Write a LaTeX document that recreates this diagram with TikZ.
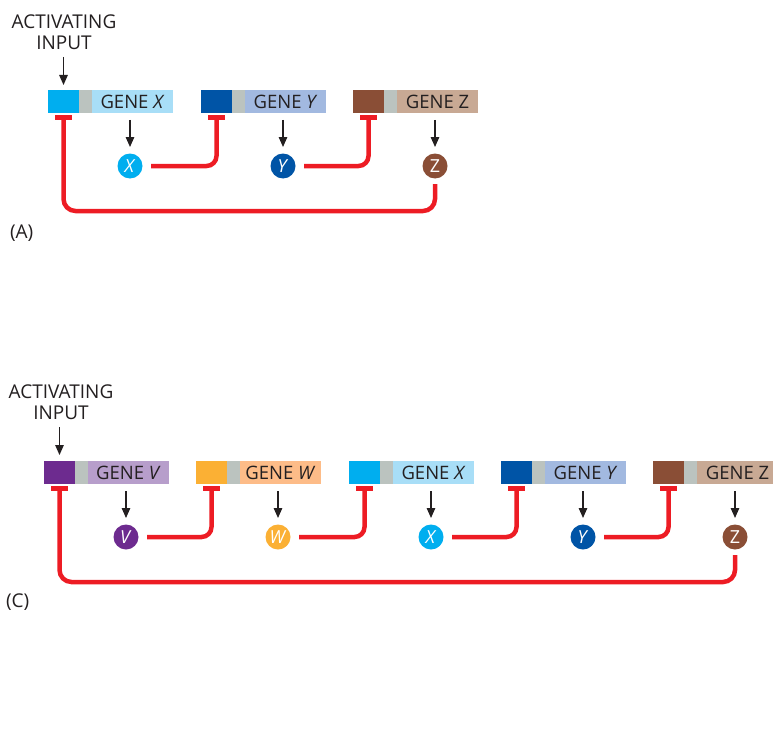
\documentclass[tikz,border=0pt]{standalone}
\usepackage{fontspec}
\setmainfont{Open Sans}
\usetikzlibrary{calc,arrows.meta}
\definecolor{txt}{HTML}{231F20}
\definecolor{grayS}{HTML}{BBC3BF}
\definecolor{cyanD}{HTML}{00AEEF}
\definecolor{cyanL}{HTML}{A8DEF7}
\definecolor{blueD}{HTML}{0054A6}
\definecolor{blueL}{HTML}{A2B9E0}
\definecolor{brownD}{HTML}{8A4E36}
\definecolor{brownL}{HTML}{C8A994}
\definecolor{purpD}{HTML}{6D2B8F}
\definecolor{purpL}{HTML}{B79ECB}
\definecolor{oranD}{HTML}{FBB034}
\definecolor{oranL}{HTML}{FDBC88}
\definecolor{inhred}{HTML}{ED1C24}
\tikzset{
  base/.style={inner sep=0pt, outer sep=0pt, draw=none},
  prom/.style={base, minimum width=31pt, minimum height=23pt},
  spacer/.style={base, fill=grayS, minimum width=13pt, minimum height=23pt},
  genebox/.style={base, minimum width=81pt, minimum height=23pt, text=txt, font=\fontsize{18.5}{22}\selectfont},
  prot/.style={base, circle, minimum size=25pt, text=white, font=\fontsize{18}{22}\selectfont},
  blk/.style={draw=txt, line width=1.3pt, -{Triangle[length=10pt,width=8.5pt]}},
  inh/.style={draw=inhred, line width=4.5pt, line cap=butt},
  tbar/.style={draw=inhred, line width=5pt, line cap=butt},
  lbl/.style={base, text=txt, align=center, font=\fontsize{19}{21.5}\selectfont},
}
\newcommand\mygene[6]{%
  \node[prom, fill=#4] (#1p) at (#2+15.5,#3+11.5) {};
  \node[spacer] (#1s) at (#2+37.5,#3+11.5) {};
  \node[genebox, fill=#5] (#1g) at (#2+84.5,#3+11.5) {#6};
}
\newcommand\myprot[5]{% name, s, ytop, color, text
  \node[prot, fill=#4] (#1) at (#2+82,#3+76) {#5};
  \draw[blk] ($(#1g.south -| #1)+(0,7)$) -- ($(#1.north)+(0,-6.5)$);
}
\newcommand\myinh[2]{% from protein, to gene
  \draw[inh, rounded corners=10pt] ($(#1.east)+(8.5,0)$) -| ($(#2p.south)+(0,4.5)$);
  \draw[tbar] ($(#2p.south)+(-8.5,4.5)$) -- ($(#2p.south)+(8.5,4.5)$);
}
\begin{document}
\begin{tikzpicture}[x=1pt,y=-1pt]
\useasboundingbox (0,0) rectangle (773,741);
\clip (0,0) rectangle (773,741);
% ---------- Panel A ----------
\node[lbl] (actA) at (64,32) {ACTIVATING\\INPUT};
\mygene{aX}{48}{90}{cyanD}{cyanL}{GENE \textit{X}}
\mygene{aY}{201}{90}{blueD}{blueL}{GENE \textit{Y}}
\mygene{aZ}{353}{90}{brownD}{brownL}{GENE Z}
\draw[blk] ($(aXp.north)+(0,-33)$) coordinate (inA) -- ($(aXp.north)+(0,-5)$);
\myprot{aX}{48}{90}{cyanD}{\textit{X}}
\myprot{aY}{201}{90}{blueD}{\textit{Y}}
\myprot{aZ}{353}{90}{brownD}{Z}
\myinh{aX}{aY}
\myinh{aY}{aZ}
\draw[inh, rounded corners=12pt] ($(aZ.south)+(0,5.5)$) -- ($(aZ.south |- aXp.south)+(0,98)$) -| ($(aXp.south)+(0,4.5)$);
\draw[tbar] ($(aXp.south)+(-8.5,4.5)$) -- ($(aXp.south)+(8.5,4.5)$);
\node[lbl, anchor=west] (labA) at (10,233) {(A)};
% ---------- Panel C ----------
\node[lbl] (actC) at (61,402) {ACTIVATING\\INPUT};
\mygene{cV}{44}{461}{purpD}{purpL}{GENE \textit{V}}
\mygene{cW}{196}{461}{oranD}{oranL}{GENE \textit{W}}
\mygene{cX}{349}{461}{cyanD}{cyanL}{GENE \textit{X}}
\mygene{cY}{501}{461}{blueD}{blueL}{GENE \textit{Y}}
\mygene{cZ}{653}{461}{brownD}{brownL}{GENE Z}
\draw[blk] ($(cVp.north)+(0,-34)$) coordinate (inC) -- ($(cVp.north)+(0,-6)$);
\myprot{cV}{44}{461}{purpD}{\textit{V}}
\myprot{cW}{196}{461}{oranD}{\textit{W}}
\myprot{cX}{349}{461}{cyanD}{\textit{X}}
\myprot{cY}{501}{461}{blueD}{\textit{Y}}
\myprot{cZ}{653}{461}{brownD}{Z}
\myinh{cV}{cW}
\myinh{cW}{cX}
\myinh{cX}{cY}
\myinh{cY}{cZ}
\draw[inh, rounded corners=12pt] ($(cZ.south)+(0,5.5)$) -- ($(cZ.south |- cVp.south)+(0,98)$) -| ($(cVp.south)+(0,4.5)$);
\draw[tbar] ($(cVp.south)+(-8.5,4.5)$) -- ($(cVp.south)+(8.5,4.5)$);
\node[lbl, anchor=west] (labC) at (6,602) {(C)};
\end{tikzpicture}
\end{document}
